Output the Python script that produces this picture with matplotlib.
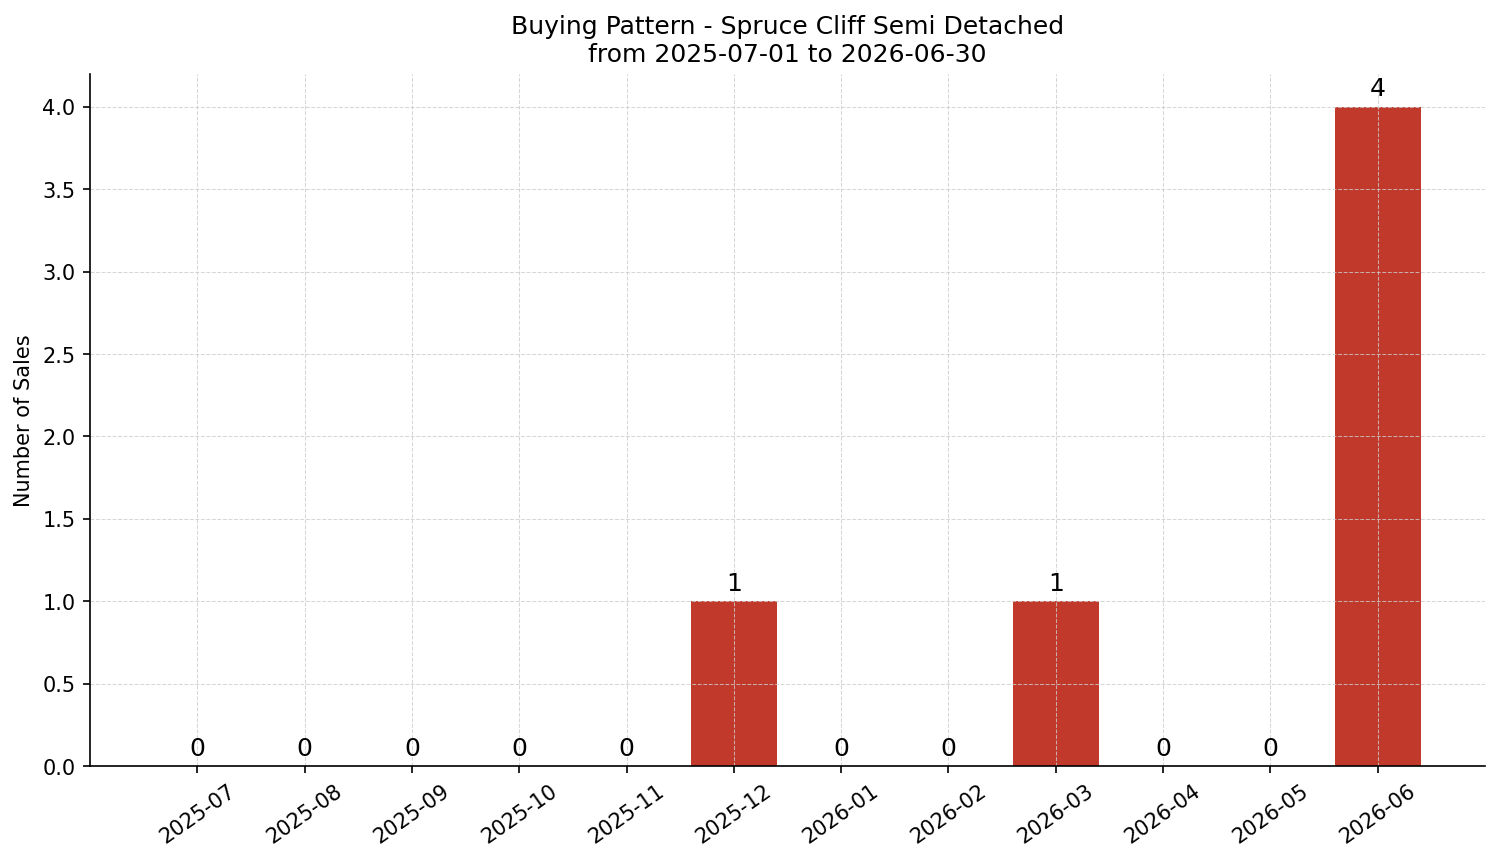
import matplotlib
matplotlib.use("Agg")
import matplotlib.pyplot as plt

months = ["2025-07", "2025-08", "2025-09", "2025-10", "2025-11", "2025-12",
          "2026-01", "2026-02", "2026-03", "2026-04", "2026-05", "2026-06"]
sales = [0, 0, 0, 0, 0, 1, 0, 0, 1, 0, 0, 4]

fig, ax = plt.subplots(figsize=(10.0, 5.75), dpi=150)

x = list(range(len(months)))
bars = ax.bar(x, sales, width=0.8, color="#c0392b")

# value labels above each bar
for b, v in zip(bars, sales):
    ax.annotate(f"{v}", (b.get_x() + b.get_width() / 2, v),
                xytext=(0, 3), textcoords="offset points",
                ha="center", va="bottom", fontsize=12)

ax.set_xticks(x)
ax.set_xticklabels(months, rotation=35)
ax.tick_params(labelsize=10)
ax.set_xlim(-1, 12)
ax.set_ylim(0, 4.2)
ax.set_ylabel("Number of Sales", fontsize=10)
ax.set_title("Buying Pattern - Spruce Cliff Semi Detached\nfrom 2025-07-01 to 2026-06-30",
             fontsize=12)

ax.grid(True, linestyle="--", linewidth=0.5, color="#cccccc", alpha=0.8)
ax.spines["top"].set_visible(False)
ax.spines["right"].set_visible(False)

fig.subplots_adjust(left=0.060, right=0.990, top=0.914, bottom=0.111)
plt.savefig("out.png", dpi=150)
